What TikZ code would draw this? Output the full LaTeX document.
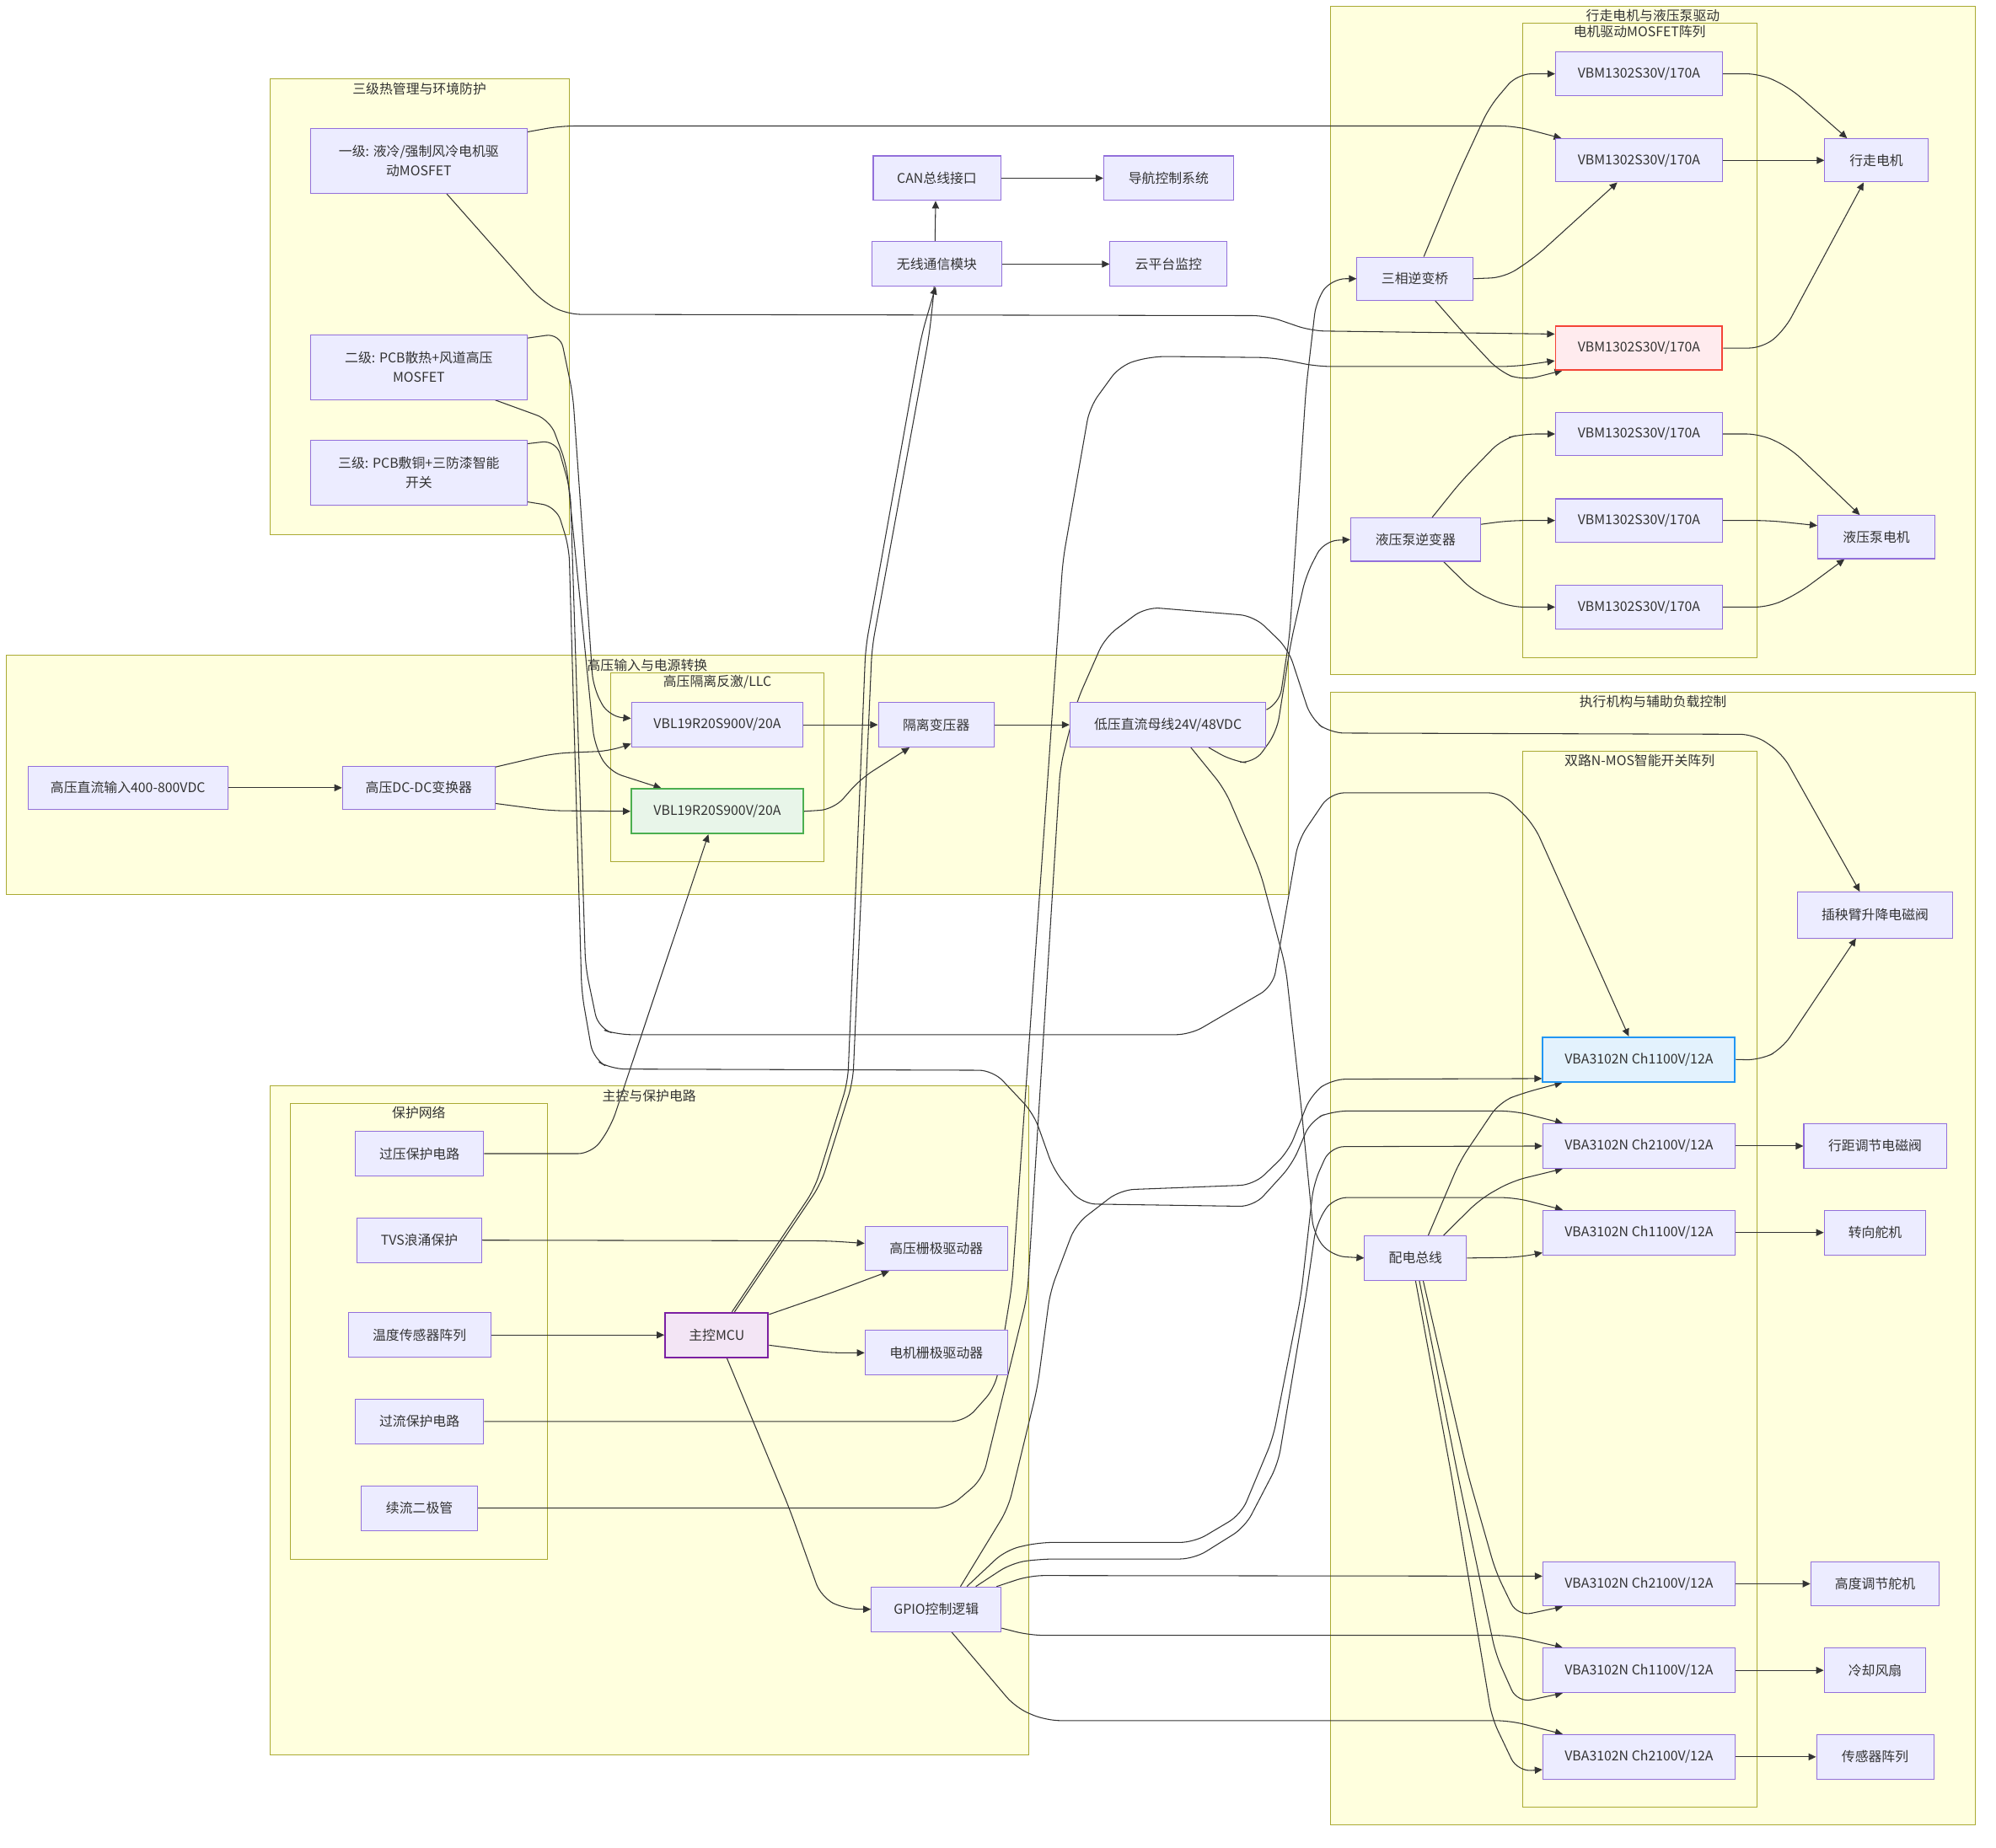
\documentclass[tikz,border=0pt]{standalone}
\usepackage{fontspec}
\setmainfont{Noto Sans CJK SC}
\usetikzlibrary{arrows.meta}
\definecolor{nfill}{HTML}{ECECFF}
\definecolor{nline}{HTML}{9370DB}
\definecolor{sfill}{HTML}{FFFFDE}
\definecolor{sline}{HTML}{AAAA33}
\definecolor{eline}{HTML}{333333}
\definecolor{txt}{HTML}{333333}
\definecolor{redf}{HTML}{FFEBEE}
\definecolor{redl}{HTML}{F44336}
\definecolor{grnf}{HTML}{E8F5E9}
\definecolor{grnl}{HTML}{4CAF50}
\definecolor{bluf}{HTML}{E3F2FD}
\definecolor{blul}{HTML}{2196F3}
\definecolor{purf}{HTML}{F3E5F5}
\definecolor{purl}{HTML}{7B1FA2}
\pgfdeclarelayer{bg}
\pgfdeclarelayer{fg}
\pgfsetlayers{bg,main,fg}
\begin{document}
\begin{tikzpicture}[x=1pt,y=-1pt,
  box/.style={draw=nline, fill=nfill, line width=0.7pt, inner sep=0pt, text=txt,
              font=\fontsize{10.5}{15}\selectfont, align=center},
  sz/.style 2 args={minimum width=#1pt, minimum height=#2pt},
  redbox/.style={box, draw=redl, fill=redf, line width=1.3pt},
  grnbox/.style={box, draw=grnl, fill=grnf, line width=1.3pt},
  blubox/.style={box, draw=blul, fill=bluf, line width=1.3pt},
  purbox/.style={box, draw=purl, fill=purf, line width=1.3pt},
  sg/.style={draw=sline, fill=sfill, line width=0.7pt},
  sgt/.style={text=txt, font=\fontsize{10.5}{13}\selectfont, inner sep=0pt},
  e/.style={draw=eline, line width=0.7pt, rounded corners=11pt,
            -{Triangle[length=6pt,width=5.5pt]}}
]
\useasboundingbox (0,0) rectangle (1568,1451.5);

% ---------------- subgraphs ----------------
\begin{pgfonlayer}{bg}
  \draw[sg] (1045,5) rectangle (1552,530);
  \draw[sg] (1196,18) rectangle (1380,517);
  \draw[sg] (5,515) rectangle (1012,703);
  \draw[sg] (480,529) rectangle (647,677);
  \draw[sg] (212,62) rectangle (447,420);
  \draw[sg] (212,853) rectangle (808,1379);
  \draw[sg] (228,867) rectangle (430,1225);
  \draw[sg] (1045,544) rectangle (1552,1434);
  \draw[sg] (1196,590) rectangle (1380,1420);
  \node[sgt] (tTR) at (1298.5,12.5) {行走电机与液压泵驱动};
  \node[sgt] (tTRi) at (1288,25) {电机驱动MOSFET阵列};
  \node[sgt] (tHV) at (508.5,523) {高压输入与电源转换};
  \node[sgt] (tHVi) at (563.5,536) {高压隔离反激/LLC};
  \node[sgt] (tTH) at (329.5,69.5) {三级热管理与环境防护};
  \node[sgt] (tMN) at (510,861) {主控与保护电路};
  \node[sgt] (tPR) at (329,874) {保护网络};
  \node[sgt] (tEX) at (1298.5,551) {执行机构与辅助负载控制};
  \node[sgt] (tEXi) at (1288,597.5) {双路N-MOS智能开关阵列};
\end{pgfonlayer}

% ---------------- nodes ----------------
\begin{pgfonlayer}{fg}
  % high voltage
  \node[box, sz={157}{34}] (HVIN) at (100.5,619) {高压直流输入400-800VDC};
  \node[box, sz={120}{34}] (DCDC) at (329,619) {高压DC-DC变换器};
  \node[box, sz={135}{35}] (Q1) at (563.5,569.5) {VBL19R20S900V/20A};
  \node[grnbox, sz={135}{35}] (Q2) at (563.5,637.5) {VBL19R20S900V/20A};
  \node[box, sz={91}{35}] (XFMR) at (735.5,569.5) {隔离变压器};
  \node[box, sz={154}{35}] (LVBUS) at (917.5,569.5) {低压直流母线24V/48VDC};
  % thermal
  \node[box, sz={170}{51}] (T1) at (329,126.5) {一级: 液冷/强制风冷电机驱\\动MOSFET};
  \node[box, sz={170}{51}] (T2) at (329,288.5) {二级: PCB散热+风道高压\\MOSFET};
  \node[box, sz={170}{51}] (T3) at (329,371.5) {三级: PCB敷铜+三防漆智能\\开关};
  % communication
  \node[box, sz={100}{35}] (CAN) at (736,140) {CAN总线接口};
  \node[box, sz={102}{35}] (NAV) at (918,140) {导航控制系统};
  \node[box, sz={102}{35}] (WL) at (736,207.5) {无线通信模块};
  \node[box, sz={92}{35}] (CLOUD) at (918,207.5) {云平台监控};
  % motor drive
  \node[box, sz={91}{34}] (INV3) at (1111.5,219) {三相逆变桥};
  \node[box, sz={102}{34}] (HYDINV) at (1112,424) {液压泵逆变器};
  \node[box, sz={131}{34}] (M1) at (1287.5,58) {VBM1302S30V/170A};
  \node[box, sz={131}{34}] (M2) at (1287.5,126) {VBM1302S30V/170A};
  \node[redbox, sz={131}{34}] (M3) at (1287.5,273.5) {VBM1302S30V/170A};
  \node[box, sz={131}{34}] (M4) at (1287.5,341) {VBM1302S30V/170A};
  \node[box, sz={131}{34}] (M5) at (1287.5,409) {VBM1302S30V/170A};
  \node[box, sz={131}{34}] (M6) at (1287.5,477) {VBM1302S30V/170A};
  \node[box, sz={81}{34}] (TRAVEL) at (1474,126) {行走电机};
  \node[box, sz={92}{34}] (HYDM) at (1474,422) {液压泵电机};
  % main control
  \node[box, sz={101}{35}] (OVP) at (329.5,906.5) {过压保护电路};
  \node[box, sz={98}{35}] (TVS) at (329.5,974.5) {TVS浪涌保护};
  \node[box, sz={112}{35}] (TEMP) at (329.5,1049) {温度传感器阵列};
  \node[box, sz={101}{35}] (OCP) at (329.5,1117) {过流保护电路};
  \node[box, sz={91}{35}] (FWD) at (329.5,1185) {续流二极管};
  \node[purbox, sz={81}{35}] (MCU) at (563,1049) {主控MCU};
  \node[box, sz={112}{35}] (HVGD) at (735.5,981) {高压栅极驱动器};
  \node[box, sz={112}{35}] (MGD) at (735.5,1063) {电机栅极驱动器};
  \node[box, sz={102}{35}] (GPIO) at (735.5,1264.5) {GPIO控制逻辑};
  % actuators
  \node[box, sz={80}{35}] (PDB) at (1112,988.5) {配电总线};
  \node[blubox, sz={151}{35}] (S1) at (1287.5,832.5) {VBA3102N Ch1100V/12A};
  \node[box, sz={151}{35}] (S2) at (1287.5,900.5) {VBA3102N Ch2100V/12A};
  \node[box, sz={151}{35}] (S3) at (1287.5,968.5) {VBA3102N Ch1100V/12A};
  \node[box, sz={151}{35}] (S4) at (1287.5,1244.5) {VBA3102N Ch2100V/12A};
  \node[box, sz={151}{35}] (S5) at (1287.5,1312.5) {VBA3102N Ch1100V/12A};
  \node[box, sz={151}{35}] (S6) at (1287.5,1380.5) {VBA3102N Ch2100V/12A};
  \node[box, sz={122}{36}] (SOL1) at (1473,719) {插秧臂升降电磁阀};
  \node[box, sz={112}{35}] (SOL2) at (1473,900.5) {行距调节电磁阀};
  \node[box, sz={80}{35}] (STEER) at (1473,968.5) {转向舵机};
  \node[box, sz={101}{35}] (HEIGHT) at (1473,1244.5) {高度调节舵机};
  \node[box, sz={80}{35}] (FAN) at (1473,1312.5) {冷却风扇};
  \node[box, sz={92}{35}] (SENS) at (1473,1380.5) {传感器阵列};
\end{pgfonlayer}

% ---------------- connectors ----------------
% high voltage chain
\draw[e] (HVIN.east) -- (DCDC.west);
\draw[e] ([yshift=-1pt]DCDC.north east) -- (435,592) -- (480,590) -- ([yshift=3pt]Q1.south west);
\draw[e] ([yshift=5pt]DCDC.south east) -- (432,637) -- (Q2.west);
\draw[e] (Q1.east) -- (XFMR.west);
\draw[e] (Q2.east) -- (655,636) -- (676,612) -- ([xshift=-21pt]XFMR.south);
\draw[e] (XFMR.east) -- (LVBUS.west);

% thermal
\draw[e] ([yshift=-3pt]T1.north east) -- (440,99) -- (1190,99) -- ([xshift=5pt]M2.north west);
\draw[e] ([xshift=22pt]T1.south) -- (425,236) -- (445,247) -- (995,248) -- (1030,260) -- ([yshift=11pt]M3.west);
\draw[e] ([yshift=-3pt]T2.north east) -- (440,262) -- (450,310) -- (466,540) -- (478,563) -- ([yshift=5pt]Q1.west);
\draw[e] ([xshift=60pt]T2.south) -- (432,330) -- (445,365) -- (467,585) -- (478,606) -- ([xshift=-44pt]Q2.north);
\draw[e] ([yshift=-3pt]T3.north east) -- (437,346) -- (448,385) -- (460,760) -- (470,808) -- (485,813) -- (935,813) -- (1000,775) -- (1020,660) -- (1045,623) -- (1180,623) -- (1205,648) -- ([xshift=-8pt]S1.north);
\draw[e] ([yshift=3pt]T3.south east) -- (437,398) -- (447,430) -- (457,780) -- (466,832) -- (480,840) -- (780,841) -- (812,875) -- (828,920) -- (850,946) -- (985,948) -- (1015,915) -- (1030,880) -- (1047,873) -- (1190,873) -- ([xshift=16pt]S2.north west);

% communication
\draw[e] ([xshift=12pt]MCU.north) -- (640,934) -- (666,850) -- (680,509) -- (724,263) -- ([xshift=-1pt]WL.south);
\draw[e] ([xshift=14pt]MCU.north) -- (645,930) -- (670,850) -- (685,509) -- (730,263) -- (734,226) -- ([xshift=-1pt]CAN.south);
\draw[e] (CAN.east) -- (NAV.west);
\draw[e] (WL.east) -- (CLOUD.west);

% low voltage bus
\draw[e] ([yshift=-6pt]LVBUS.north east) -- (1005,553) -- (1013,500) -- (1026,305) -- (1034,236) -- (1046,219) -- (INV3.west);
\draw[e] ([xshift=32pt]LVBUS.south) -- (968,598) -- (985,600) -- (1003,575) -- (1014,505) -- (1026,452) -- (1040,425) -- (HYDINV.west);
\draw[e] ([xshift=18pt]LVBUS.south) -- (962,620) -- (990,685) -- (1010,760) -- (1022,868) -- (1032,970) -- (1046,987) -- (PDB.west);

% motor drive
\draw[e] ([xshift=7pt]INV3.north) -- (1145,138) -- (1170,84) -- (1192,58) -- (M1.west);
\draw[e] (INV3.east) -- (1182,218) -- (1206,202) -- ([xshift=-17pt]M2.south);
\draw[e] ([xshift=16pt]INV3.south) -- (1150,262) -- (1178,292) -- (1196,299) -- ([xshift=6pt]M3.south west);
\draw[e] ([xshift=13pt]HYDINV.north) -- (1148,378) -- (1180,345) -- (1196,341) -- (M4.west);
\draw[e] ([yshift=12pt]HYDINV.east) -- (1186,409) -- (M5.west);
\draw[e] ([xshift=22pt]HYDINV.south) -- (1158,465) -- (1186,477) -- (M6.west);
\draw[e] (M1.east) -- (1383,58) -- (1406,69) -- ([xshift=-23pt]TRAVEL.north);
\draw[e] (M2.east) -- (TRAVEL.west);
\draw[e] (M3.east) -- (1385,273.5) -- (1402,259) -- ([xshift=-10pt]TRAVEL.south);
\draw[e] (M4.east) -- (1383,341) -- (1406,352) -- ([xshift=-13pt]HYDM.north);
\draw[e] (M5.east) -- (1390,409) -- ([yshift=9pt]HYDM.west);
\draw[e] (M6.east) -- (1390,477) -- (1413,466) -- ([xshift=-25pt]HYDM.south);

% main control and protection
\draw[e] (TEMP.east) -- (MCU.west);
\draw[e] (TVS.east) -- (650,975) -- ([yshift=4pt]HVGD.west);
\draw[e] ([yshift=-2pt]MCU.north east) -- (650,1017) -- ([xshift=-37pt]HVGD.south);
\draw[e] ([yshift=-8pt]MCU.east) -- (650,1063) -- (MGD.west);
\draw[e] ([xshift=8pt]MCU.south) -- (620,1185) -- (645,1255) -- (664,1264.5) -- (GPIO.west);
\draw[e] (OVP.east) -- (465,906.5) -- (480,885) -- ([xshift=-7pt]Q2.south);
\draw[e] (OCP.east) -- (758,1117) -- (782,1090) -- (795,1010) -- (822,627) -- (835,440) -- (856,320) -- (880,287) -- (905,280) -- (1000,281) -- (1035,288) -- (1190,288) -- ([yshift=-10pt]M3.west);
\draw[e] (FWD.east) -- (745,1185) -- (772,1162) -- (807,1018) -- (833,602) -- (846,551) -- (868,501) -- (900,477) -- (985,484) -- (1012,510) -- (1030,565) -- (1045,576) -- (1378,577) -- (1400,592) -- ([xshift=-12pt]SOL1.north);

% GPIO to switches
\draw[e] ([xshift=19pt]GPIO.north) -- (792,1185) -- (815,1090) -- (825,1015) -- (845,962) -- (880,935) -- (985,931) -- (1012,905) -- (1030,860) -- (1046,848) -- ([yshift=-15pt]S1.west);
\draw[e] ([xshift=24pt]GPIO.north) -- (790,1218) -- (816,1212) -- (938,1212) -- (975,1190) -- (1000,1130) -- (1022,1018) -- (1032,930) -- (1045,901) -- (S2.west);
\draw[e] ([xshift=31pt]GPIO.north) -- (795,1228) -- (818,1225) -- (938,1225) -- (978,1200) -- (1004,1150) -- (1026,1018) -- (1034,962) -- (1047,941) -- (1190,941) -- ([xshift=16pt]S3.north west);
\draw[e] ([xshift=-4pt]GPIO.north east) -- (809,1238) -- ([yshift=6pt]S4.west);
\draw[e] ([yshift=3pt]GPIO.south east) -- (809,1285) -- (1186,1285) -- ([xshift=16pt]S5.north west);
\draw[e] ([xshift=12pt]GPIO.south) -- (798,1342) -- (822,1352) -- (1186,1352) -- ([xshift=16pt]S6.north west);

% power distribution to switches
\draw[e] ([xshift=10pt]PDB.north) -- (1147,912) -- (1178,866) -- (1196,859) -- ([xshift=16pt]S1.south west);
\draw[e] ([xshift=22pt]PDB.north) -- (1163,942) -- (1188,928) -- ([xshift=16pt]S2.south west);
\draw[e] (PDB.east) -- (1193,988) -- ([yshift=2pt]S3.south west);
\draw[e] ([xshift=6pt]PDB.south) -- (1153,1158) -- (1175,1235) -- (1192,1270) -- ([xshift=16pt]S4.south west);
\draw[e] ([xshift=3pt]PDB.south) -- (1145,1158) -- (1175,1300) -- (1192,1338) -- ([xshift=16pt]S5.south west);
\draw[e] (PDB.south) -- (1140,1158) -- (1172,1350) -- (1192,1392) -- ([yshift=-10pt]S6.west);

% switches to loads
\draw[e] (S1.east) -- (1383,833) -- (1400,824) -- ([xshift=-15pt]SOL1.south);
\draw[e] (S2.east) -- (SOL2.west);
\draw[e] (S3.east) -- (STEER.west);
\draw[e] (S4.east) -- (HEIGHT.west);
\draw[e] (S5.east) -- (FAN.west);
\draw[e] (S6.east) -- (SENS.west);
\end{tikzpicture}
\end{document}
